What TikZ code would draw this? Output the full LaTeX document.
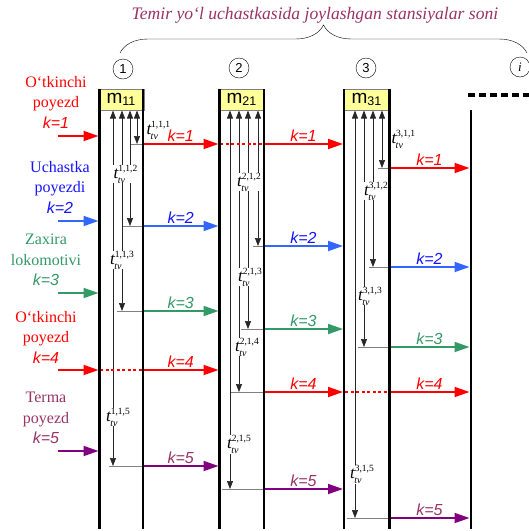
\documentclass[tikz,border=0pt]{standalone}
\usepackage{fontspec}
\setmainfont{Liberation Serif}
\newfontfamily\arialfont{Liberation Sans}
\usepackage{xcolor}
\usetikzlibrary{arrows.meta, decorations.pathreplacing}
\definecolor{trred}{RGB}{255,0,0}
\definecolor{trblue}{RGB}{51,102,255}
\definecolor{txtblue}{RGB}{20,20,255}
\definecolor{trgreen}{RGB}{51,153,102}
\definecolor{trplum}{RGB}{153,51,102}
\definecolor{trpurple}{RGB}{128,0,128}
\definecolor{boxyellow}{RGB}{255,255,153}
\newcommand{\ttv}[1]{{\fontsize{17}{17}\selectfont\itshape t}\rlap{\kern-0.5pt\raisebox{-4.5pt}{\fontsize{10}{10}\selectfont\itshape tv}}\raisebox{7.5pt}{\fontsize{9.5}{9.5}\selectfont #1}}
\newcommand{\kk}[1]{{\arialfont\itshape k=#1}}

\begin{document}
\begin{tikzpicture}[
    x=1pt, y=-1pt,
    rail/.style={line width=2.5pt},
    stbox/.style={rectangle, draw=black!50, fill=boxyellow, minimum width=46pt, minimum height=21pt, inner sep=0pt, font=\arialfont\fontsize{19}{19}\selectfont},
    stnum/.style={circle, draw, thin, minimum size=20pt, inner sep=0pt, font=\arialfont\fontsize{13}{13}\selectfont},
    tvarr/.style={{Triangle[length=8pt,width=6pt]}-{Triangle[length=8pt,width=6pt]}, line width=0.7pt, black!85},
    tick/.style={black!50, line width=0.9pt},
    trarr/.style={-{Triangle[length=15pt,width=10pt]}, line width=1.8pt},
    pass/.style={trred, line width=1.5pt, dash pattern=on 3pt off 2.5pt},
    klab/.style={above=1.5pt, inner sep=0pt, font=\arialfont\itshape\fontsize{16}{16}\selectfont},
    tlab/.style={fill=white, inner sep=0.3pt},
    grp/.style={align=center, font=\fontsize{16}{20.5}\selectfont}
]
\useasboundingbox (0,0) rectangle (529,531);

\node[text=trplum, font=\itshape\fontsize{17.6}{17.6}\selectfont] (title) at (315,15) {Temir yo‘l uchastkasida joylashgan stansiyalar soni};
\draw[decorate, decoration={brace, amplitude=28pt}] (120,53) -- (527,53);

\node[stnum] (n1) at (123,69) {1};
\node[stnum] (n2) at (239,68) {2};
\node[stnum] (n3) at (366,68) {3};
\node[stnum, font=\itshape\fontsize{13}{13}\selectfont] (ni) at (520,67) {i};

\node[stbox] (m1) at (121,99.5) {m\raisebox{-2pt}{\fontsize{12.5}{12.5}\selectfont 11}};
\node[stbox] (m2) at (241.5,99.5) {m\raisebox{-2pt}{\fontsize{12.5}{12.5}\selectfont 21}};
\node[stbox] (m3) at (366.5,99.5) {m\raisebox{-2pt}{\fontsize{12.5}{12.5}\selectfont 31}};

\node[grp, text=trred] (g1) at (56,102) {O‘tkinchi\\poyezd\\\kk{1}};
\node[grp, text=txtblue] (g2) at (60,187) {Uchastka\\poyezdi\\\kk{2}};
\node[grp, text=trgreen] (g3) at (46,260) {Zaxira\\lokomotivi\\\kk{3}};
\node[grp, text=trred] (g4) at (46,337) {O‘tkinchi\\poyezd\\\kk{4}};
\node[grp, text=trplum] (g5) at (46,418) {Terma\\poyezd\\\kk{5}};

\draw[trarr, trred] (58,136) -- (98.5,136);
\draw[trarr, trblue] (58,221) -- (98.5,221);
\draw[trarr, trgreen] (58,293) -- (98.5,293);
\draw[trarr, trred] (58,370) -- (98.5,370);
\draw[trarr, trpurple] (58,451) -- (98.5,451);

\draw[tvarr] (137,110.5) -- (137,144);
\draw[tvarr] (130,110.5) -- (130,226);
\draw[tvarr] (122,110.5) -- (122,311);
\draw[tvarr] (113,110.5) -- (113,466);
\draw[tick] (131,144) -- (143,144);
\draw[tick] (123,226) -- (143,226);
\draw[tick] (117,311) -- (143,311);
\draw[tick] (109,466) -- (143,466);
\draw[pass] (100,370) -- (143,370);
\node[tlab, anchor=west] (t111) at (146,130) {\ttv{1,1,1}};
\node[tlab] (t112) at (125.5,174) {\ttv{1,1,2}};
\node[tlab] (t113) at (122,260) {\ttv{1,1,3}};
\node[tlab] (t115) at (118,417) {\ttv{1,1,5}};
\draw[trarr, trred] (143,144) -- node[klab, text=trred]{\kk{1}} (218.5,144);
\draw[trarr, trblue] (143,226) -- node[klab, text=txtblue]{\kk{2}} (218.5,226);
\draw[trarr, trgreen] (143,311) -- node[klab, text=trgreen]{\kk{3}} (218.5,311);
\draw[trarr, trred] (143,370) -- node[klab, text=trred]{\kk{4}} (218.5,370);
\draw[trarr, trpurple] (143,466) -- node[klab, text=trplum]{\kk{5}} (218.5,466);

\draw[tvarr] (258,110.5) -- (258,246);
\draw[tvarr] (248,110.5) -- (248,329);
\draw[tvarr] (239,110.5) -- (239,392);
\draw[tvarr] (230,110.5) -- (230,489);
\draw[tick] (253,246) -- (264,246);
\draw[tick] (241,329) -- (264,329);
\draw[tick] (231,392) -- (264,392);
\draw[tick] (222,489) -- (264,489);
\draw[pass] (220,144) -- (264,144);
\node[tlab] (t212) at (249,182) {\ttv{2,1,2}};
\node[tlab] (t213) at (250,277) {\ttv{2,1,3}};
\node[tlab] (t214) at (247,347) {\ttv{2,1,4}};
\node[tlab] (t215) at (239,444) {\ttv{2,1,5}};
\draw[trarr, trred] (264,144) -- node[klab, text=trred]{\kk{1}} (343,144);
\draw[trarr, trblue] (264,246) -- node[klab, text=txtblue]{\kk{2}} (343,246);
\draw[trarr, trgreen] (264,329) -- node[klab, text=trgreen]{\kk{3}} (343,329);
\draw[trarr, trred] (264,392) -- node[klab, text=trred]{\kk{4}} (343,392);
\draw[trarr, trpurple] (264,489) -- node[klab, text=trplum]{\kk{5}} (343,489);

\draw[tvarr] (382,110.5) -- (382,168);
\draw[tvarr] (373,110.5) -- (373,267);
\draw[tvarr] (364,110.5) -- (364,347);
\draw[tvarr] (355,110.5) -- (355,518);
\draw[tick] (378,168) -- (389,168);
\draw[tick] (369,267) -- (389,267);
\draw[tick] (358,347) -- (389,347);
\draw[tick] (347,518) -- (389,518);
\draw[pass] (345,392) -- (389,392);
\node[tlab, anchor=west] (t311) at (391,139) {\ttv{3,1,1}};
\node[tlab] (t312) at (376,191) {\ttv{3,1,2}};
\node[tlab] (t313) at (370,296) {\ttv{3,1,3}};
\node[tlab] (t315) at (362,474) {\ttv{3,1,5}};
\draw[trarr, trred] (389.5,168) -- node[klab, text=trred]{\kk{1}} (469.5,168);
\draw[trarr, trblue] (389.5,267) -- node[klab, text=txtblue]{\kk{2}} (469.5,267);
\draw[trarr, trgreen] (389.5,347) -- node[klab, text=trgreen]{\kk{3}} (469.5,347);
\draw[trarr, trred] (389.5,392) -- node[klab, text=trred]{\kk{4}} (469.5,392);
\draw[trarr, trpurple] (389.5,518) -- node[klab, text=trplum]{\kk{5}} (469.5,518);

\draw[rail] (99.5,89) -- (99.5,529);
\draw[rail] (143,89) -- (143,529);
\draw[rail] (219.5,89) -- (219.5,529);
\draw[rail] (264,89) -- (264,529);
\draw[rail] (344,89) -- (344,529);
\draw[rail] (389.5,89) -- (389.5,529);
\draw[rail] (471,110) -- (471,529);
\draw[line width=3.5pt, dash pattern=on 7pt off 4pt] (468,95) -- (529,95);
\end{tikzpicture}
\end{document}
